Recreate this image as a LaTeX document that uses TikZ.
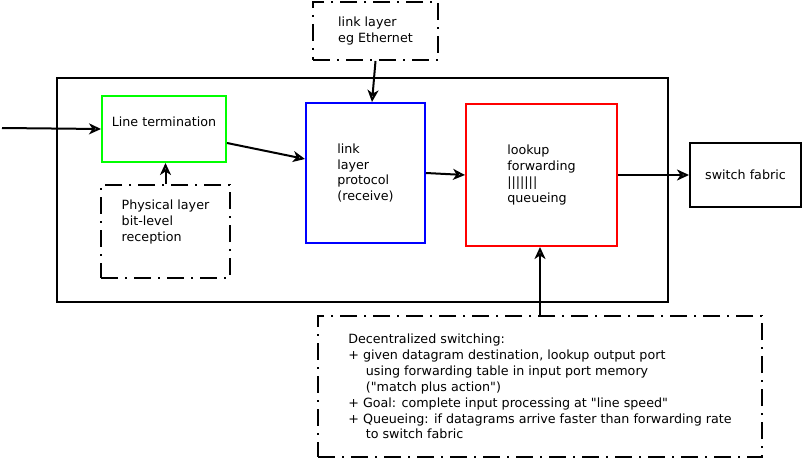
\documentclass[tikz,border=0pt]{standalone}
\usepackage{fontspec}
\newfontfamily\dejavu{DejaVu Sans}
\usetikzlibrary{arrows.meta}
\begin{document}
\begin{tikzpicture}[x=1pt, y=-1pt, line width=2pt,
  flow/.style={-{Stealth[open, length=12pt, width=11pt, inset=3.5pt]}},
  font=\dejavu\fontsize{12.7}{15.9}\selectfont,
  blk/.style={draw, rectangle, align=left, inner sep=0pt},
  dashblk/.style={blk, dash pattern=on 17pt off 7pt on 2pt off 7pt}]

\useasboundingbox (0,0) rectangle (803,460);

% input port
\node[blk, minimum width=611pt, minimum height=224pt] (port) at (362.5,190) {};

\node[blk, draw=green, minimum width=124pt, minimum height=66pt, text depth=14pt] (lt) at (164,129) {Line termination};
\node[dashblk, minimum width=129pt, minimum height=93pt, text depth=21pt] (phys) at (165.5,231.5) {Physical layer\\bit-level\\reception};
\node[dashblk, minimum width=125pt, minimum height=58pt] (link) at (375.5,31) {link layer\\eg Ethernet};
\node[blk, draw=blue, minimum width=119pt, minimum height=140pt] (proto) at (365.5,173) {link\\layer\\protocol\\(receive)};
\node[blk, draw=red, minimum width=151pt, minimum height=142pt] (lookup) at (541.5,175) {lookup\\forwarding\\|||||||\\queueing};
\node[blk, minimum width=111pt, minimum height=64pt] (fabric) at (745.5,175) {switch fabric};
\node[dashblk, minimum width=444pt, minimum height=141pt] (dec) at (540,386.5) {Decentralized switching:\\
+ given datagram destination, lookup output port\\
\hspace{17.5pt}using forwarding table in input port memory\\
\hspace{17.5pt}("match plus action")\\
+ Goal: complete input processing at "line speed"\\
+ Queueing: if datagrams arrive faster than forwarding rate\\
\hspace{17.5pt}to switch fabric};

\coordinate (src) at (2,128);

\draw[flow] (src) -- (lt.west);
\draw[flow] ([yshift=-14pt]lt.east) -- ([yshift=14pt]proto.west);
\draw[flow] (phys.north) -- (phys.north |- lt.south);
\draw[flow] (link.south) -- ([xshift=6.5pt]proto.north);
\draw[flow] (proto.east) -- (lookup.west);
\draw[flow] (lookup.east) -- (fabric.west);
\draw[flow] (dec.north) -- (dec.north |- lookup.south);

\end{tikzpicture}
\end{document}
